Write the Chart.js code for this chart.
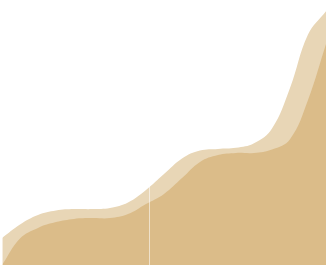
<!DOCTYPE html>
<html>
<head>
<meta charset="utf-8">
<script src="https://cdn.jsdelivr.net/npm/chart.js@4"></script>
<style>
  html, body { margin: 0; padding: 0; background: #fff; }
  #wrap { width: 331px; height: 275px; }
</style>
</head>
<body>
<div id="wrap"><canvas id="areaChart"></canvas></div>
<script>
// sample positions along the x axis
const steps = [0, 1, 2, 3, 4, 5, 6, 7, 8, 9, 10, 11, 12, 13, 14, 15, 16, 17, 18];
// upper (light) series
const totalValues = [10.2, 15.3, 18.9, 20.6, 21.1, 21.1, 21.5, 23.6, 28.3, 34.3, 40.2, 43.2, 43.8, 44.2, 45.9, 51.5, 66.8, 87.0, 95.8];
// lower (dark) series
const baseValues = [0, 10.0, 14.0, 16.2, 17.4, 17.7, 17.7, 19.2, 23.0, 26.8, 32.8, 38.9, 41.5, 42.3, 42.3, 43.6, 47.5, 62.3, 83.4];
// where the vertical grid lines sit
const gridTicks = [0, 8.22, 18];

document.addEventListener("DOMContentLoaded", function () {
    const ctx = document.getElementById("areaChart").getContext("2d");

    new Chart(ctx, {
        type: "line",
        data: {
            datasets: [
                {
                    label: "base",
                    data: steps.map((x, i) => ({ x: x, y: baseValues[i] })),
                    backgroundColor: "#dbbc89",
                    borderWidth: 0,
                    pointRadius: 0,
                    fill: "origin",
                    tension: 0.4
                },
                {
                    label: "total",
                    data: steps.map((x, i) => ({ x: x, y: totalValues[i] })),
                    backgroundColor: "#e8d6b6",
                    borderWidth: 0,
                    pointRadius: 0,
                    fill: "origin",
                    tension: 0.4
                }
            ]
        },
        options: {
            responsive: true,
            maintainAspectRatio: false,
            animation: false,
            layout: { padding: { left: 2, right: 5, top: 0, bottom: 10 } },
            plugins: {
                legend: { display: false },
                tooltip: { enabled: false }
            },
            scales: {
                x: {
                    type: "linear",
                    min: 0,
                    max: 18,
                    afterBuildTicks: axis => {
                        axis.ticks = gridTicks.map(v => ({ value: v }));
                    },
                    ticks: { display: false },
                    grid: {
                        color: "rgba(255,255,255,0.55)",
                        drawTicks: false,
                        z: 1
                    },
                    border: { display: true, color: "rgba(255,255,255,0.5)" }
                },
                y: {
                    display: false,
                    min: 0,
                    max: 100
                }
            }
        }
    });
});
</script>
</body>
</html>
